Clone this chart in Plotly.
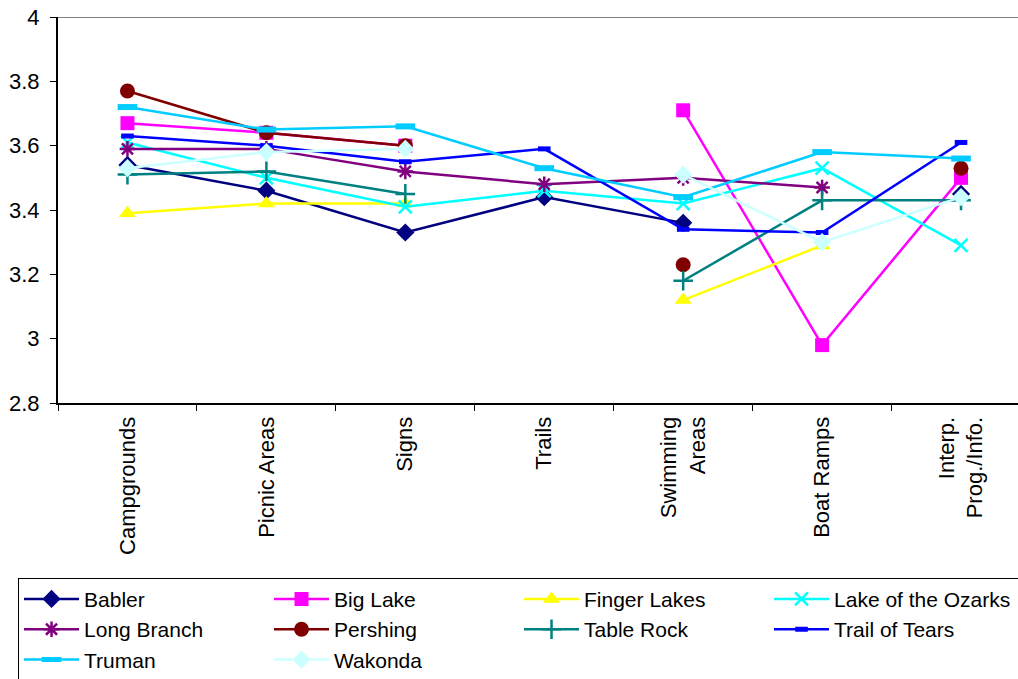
import plotly.graph_objects as go

# Facility categories along the x axis
categories = ["Campgrounds", "Picnic Areas", "Signs", "Trails",
              "Swimming<br>Areas", "Boat Ramps", "Interp.<br>Prog./Info."]

# Mean ratings per park (None = not rated)
babler         = [3.54, 3.46, 3.33, 3.44, 3.36, None, 3.45]
big_lake       = [3.67, 3.64, 3.60, None, 3.71, 2.98, 3.50]
finger_lakes   = [3.39, 3.42, 3.42, None, 3.12, 3.29, None]
lake_ozarks    = [3.61, 3.50, 3.41, 3.46, 3.42, 3.53, 3.29]
long_branch    = [3.59, 3.59, 3.52, 3.48, 3.50, 3.47, None]
pershing       = [3.77, 3.64, 3.60, None, 3.23, None, 3.53]
table_rock     = [3.51, 3.52, 3.45, None, 3.18, 3.43, 3.43]
trail_of_tears = [3.63, 3.60, 3.55, 3.59, 3.34, 3.33, 3.61]
truman         = [3.72, 3.65, 3.66, 3.53, 3.44, 3.58, 3.56]
wakonda        = [3.53, 3.58, 3.59, None, 3.51, 3.30, 3.44]

y_ticks = [2.8, 3.0, 3.2, 3.4, 3.6, 3.8, 4.0]
y_tick_text = ["2.8", "3", "3.2", "3.4", "3.6", "3.8", "4"]

series = [
    ("Babler", babler, "#000080", dict(symbol="diamond", size=14)),
    ("Big Lake", big_lake, "#FF00FF", dict(symbol="square", size=14)),
    ("Finger Lakes", finger_lakes, "#FFFF00", dict(symbol="triangle-up", size=15)),
    ("Lake of the Ozarks", lake_ozarks, "#00FFFF",
     dict(symbol="x-thin-open", size=13, line=dict(width=2.5, color="#00FFFF"))),
    ("Long Branch", long_branch, "#800080",
     dict(symbol="asterisk-open", size=13, line=dict(width=2.5, color="#800080"))),
    ("Pershing", pershing, "#800000", dict(symbol="circle", size=15)),
    ("Table Rock", table_rock, "#008080",
     dict(symbol="cross-thin-open", size=14, line=dict(width=2.5, color="#008080"))),
    ("Trail of Tears", trail_of_tears, "#0000FF",
     dict(symbol="line-ew-open", size=9, line=dict(width=5, color="#0000FF"))),
    ("Truman", truman, "#00CCFF",
     dict(symbol="line-ew-open", size=14, line=dict(width=6, color="#00CCFF"))),
    ("Wakonda", wakonda, "#CCFFFF", dict(symbol="diamond", size=14)),
]

FONT = "Liberation Sans, Arial, sans-serif"

fig = go.Figure()
for name, vals, color, marker in series:
    m = dict(color=color)
    m.update(marker)
    fig.add_trace(go.Scatter(
        x=categories, y=vals, name=name, mode="lines+markers",
        line=dict(color=color, width=2.5), marker=m,
        connectgaps=False,
    ))

W, H = 1018, 679
left, top, bottom = 57.5, 16.5, 276
plot_w = W - left
plot_h = H - top - bottom
step = 139.0  # pixel width of each category band

fig.update_layout(
    width=W, height=H,
    margin=dict(l=left, r=0, t=top, b=bottom, pad=0, autoexpand=False),
    paper_bgcolor="white", plot_bgcolor="white",
    font=dict(family=FONT, size=22, color="black"),
    showlegend=True,
    legend=dict(
        orientation="h",
        x=(17.5 - left) / plot_w, y=(H - bottom - 578) / plot_h,
        xanchor="left", yanchor="top",
        entrywidth=180, entrywidthmode="pixels",
        itemwidth=55,
        bordercolor="black", borderwidth=1,
        font=dict(family=FONT, size=21, color="black"),
        bgcolor="white",
        itemsizing="trace",
    ),
    xaxis=dict(
        range=[-0.5, -0.5 + plot_w / step],
        showgrid=False, zeroline=False,
        showline=True, linecolor="black", linewidth=2,
        ticks="outside", tickson="boundaries", ticklen=6,
        tickcolor="black", tickwidth=1,
        tickangle=-90, ticklabelstandoff=3,
        tickfont=dict(family=FONT, size=22, color="black"),
    ),
    yaxis=dict(
        range=[2.8, 4.0],
        tickvals=y_ticks, ticktext=y_tick_text,
        showgrid=False, zeroline=False,
        showline=True, linecolor="black", linewidth=2,
        ticks="outside", ticklen=6, tickcolor="black", tickwidth=1,
        ticklabelstandoff=6,
        tickfont=dict(family=FONT, size=22, color="black"),
    ),
    shapes=[dict(type="line", xref="paper", yref="y", x0=0, x1=1, y0=4.0, y1=4.0,
                 line=dict(color="#808080", width=2), layer="below")],
)

fig.write_html("out.html")
